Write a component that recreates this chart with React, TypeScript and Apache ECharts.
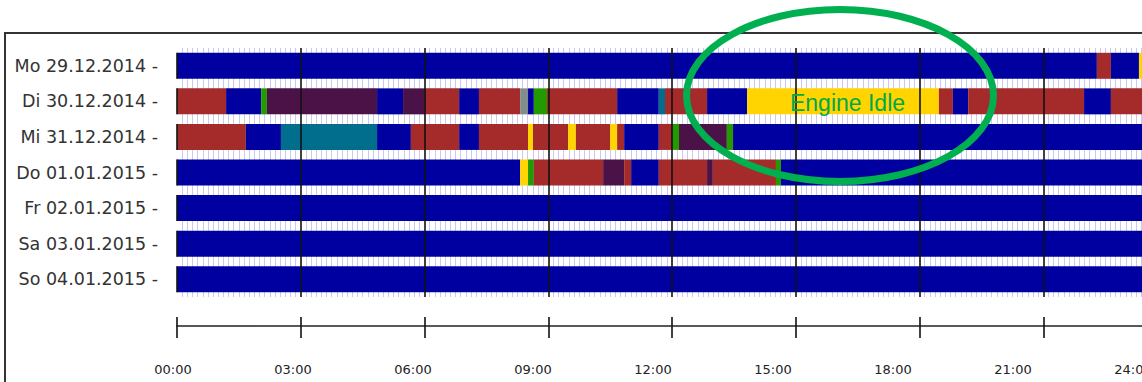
import React, { useEffect, useRef } from "react";
import * as echarts from "echarts";

// Day labels (y axis)
const dayLabels = [
  "Mo 29.12.2014",
  "Di 30.12.2014",
  "Mi 31.12.2014",
  "Do 01.01.2015",
  "Fr 02.01.2015",
  "Sa 03.01.2015",
  "So 04.01.2015",
];

// Time tick labels (x axis, every 3 h)
const timeLabels = ["00:00", "03:00", "06:00", "09:00", "12:00", "15:00", "18:00", "21:00", "24:00"];

// Status codes -> names and colours
const stateCodes = ["O", "D", "W", "B", "G", "Y", "U"];
const stateNames = ["Engine Off", "Driving", "Working", "Break", "Ignition On", "Engine Idle", "Unknown"];
const stateColors = ["#0000a0", "#a52a2a", "#4b1248", "#006e8c", "#229a00", "#ffd400", "#828c8c"];

// Segments per day: [start hour, end hour, status code]
const mo29: [number, number, string][] = [
  [0, 22.3, "O"], [22.3, 22.64, "D"], [22.64, 23.32, "O"], [23.32, 23.45, "Y"], [23.45, 24, "O"],
];
const di30: [number, number, string][] = [
  [0, 1.19, "D"], [1.19, 2.04, "O"], [2.04, 2.18, "G"], [2.18, 4.85, "W"], [4.85, 5.48, "O"],
  [5.48, 6.01, "W"], [6.01, 6.84, "D"], [6.84, 7.32, "O"], [7.32, 8.32, "D"], [8.32, 8.51, "U"],
  [8.51, 8.65, "O"], [8.65, 8.97, "G"], [8.97, 10.67, "D"], [10.67, 11.68, "O"], [11.68, 11.83, "B"],
  [11.83, 12.85, "D"], [12.85, 13.82, "O"], [13.82, 18.47, "Y"], [18.47, 18.81, "D"], [18.81, 19.18, "O"],
  [19.18, 21.99, "D"], [21.99, 22.64, "O"], [22.64, 24, "D"],
];
const mi31: [number, number, string][] = [
  [0, 1.67, "D"], [1.67, 2.52, "O"], [2.52, 4.85, "B"], [4.85, 5.67, "O"], [5.67, 6.84, "D"],
  [6.84, 7.32, "O"], [7.32, 8.51, "D"], [8.51, 8.63, "Y"], [8.63, 9.48, "D"], [9.48, 9.67, "Y"],
  [9.67, 10.5, "D"], [10.5, 10.67, "Y"], [10.67, 10.84, "D"], [10.84, 11.68, "O"], [11.68, 12.0, "D"],
  [12.0, 12.17, "G"], [12.17, 13.33, "W"], [13.33, 13.48, "G"], [13.48, 24, "O"],
];
const do01: [number, number, string][] = [
  [0, 8.32, "O"], [8.32, 8.51, "Y"], [8.51, 8.65, "G"], [8.65, 10.33, "D"], [10.33, 10.84, "W"],
  [10.84, 11.01, "D"], [11.01, 11.68, "O"], [11.68, 12.85, "D"], [12.85, 12.99, "W"], [12.99, 14.52, "D"],
  [14.52, 14.64, "G"], [14.64, 24, "O"],
];
const fr02: [number, number, string][] = [[0, 24, "O"]];
const sa03: [number, number, string][] = [[0, 24, "O"]];
const so04: [number, number, string][] = [[0, 24, "O"]];

const days = [mo29, di30, mi31, do01, fr02, sa03, so04];

// Hours where dark grid lines cross the bars
const majorHours = [3, 6, 9, 12, 15, 18, 21];

const annotationText = "Engine Idle";

export default function App() {
  const ref = useRef<HTMLDivElement>(null);

  useEffect(() => {
    if (!ref.current) return;
    const chart = echarts.init(ref.current, null, { renderer: "svg" });

    const data: any[] = [];
    days.forEach((segs, di) => {
      segs.forEach(([s, e, c]) => {
        const si = stateCodes.indexOf(c);
        data.push({ name: stateNames[si], value: [di, s, e, si] });
      });
    });

    const renderItem = (params: any, api: any) => {
      const day = api.value(0);
      const s = api.value(1);
      const e = api.value(2);
      const si = api.value(3);
      const p0 = api.coord([s, day]);
      const p1 = api.coord([e, day]);
      const h = api.size([0, 1])[1] * 0.731;
      const children: any[] = [
        {
          type: "rect",
          shape: { x: p0[0], y: p0[1] - h / 2, width: p1[0] - p0[0], height: h },
          style: { fill: stateColors[si] },
        },
      ];
      if (s === 0) {
        children.push({
          type: "line",
          shape: { x1: p0[0], y1: p0[1] - h / 2, x2: p0[0], y2: p0[1] + h / 2 },
          style: { stroke: "#111", lineWidth: 1.6 },
        });
      }
      return { type: "group", children };
    };

    chart.setOption({
      animation: false,
      backgroundColor: "#ffffff",
      grid: [
        { left: 177, top: 48, width: 990, height: 249 },
        { left: 173, top: 48, width: 960, height: 249 },
      ],
      xAxis: [
        {
          type: "value",
          gridIndex: 0,
          min: 0,
          max: 24,
          interval: 3,
          position: "bottom",
          offset: 29,
          axisLine: { show: true, lineStyle: { color: "#222", width: 1.6 } },
          axisTick: { show: true, length: 12, lineStyle: { color: "#111", width: 1.6 } },
          axisLabel: { show: false },
          splitLine: { show: false },
          minorTick: { show: false, splitNumber: 24 },
          minorSplitLine: { show: true, lineStyle: { color: "#cacaf0", width: 1 } },
        },
        {
          type: "value",
          gridIndex: 0,
          min: 0,
          max: 24,
          interval: 3,
          position: "bottom",
          offset: 29,
          axisLine: { show: false },
          axisTick: { show: true, inside: true, length: 9, lineStyle: { color: "#111", width: 1.6 } },
          axisLabel: { show: false },
          splitLine: { show: false },
        },
        {
          type: "value",
          gridIndex: 1,
          min: 0,
          max: 24,
          interval: 3,
          position: "bottom",
          offset: 29,
          axisLine: { show: false },
          axisTick: { show: false },
          splitLine: { show: false },
          axisLabel: {
            show: true,
            margin: 37,
            fontFamily: "DejaVu Sans",
            fontSize: 13,
            color: "#222",
            formatter: (v: number) => timeLabels[Math.round(v / 3)],
          },
        },
      ],
      yAxis: [
        {
          type: "category",
          gridIndex: 0,
          data: dayLabels,
          inverse: true,
          axisLine: { show: false },
          axisTick: { show: false },
          splitLine: { show: false },
          axisLabel: {
            margin: 19,
            fontFamily: "DejaVu Sans",
            fontSize: 17.5,
            color: "#333",
            formatter: (v: string) => v + " -",
          },
        },
        { type: "value", gridIndex: 1, show: false, min: 0, max: 1 },
      ],
      series: [
        {
          type: "custom",
          name: "Status",
          xAxisIndex: 0,
          yAxisIndex: 0,
          renderItem,
          encode: { x: [1, 2], y: 0 },
          data,
          markLine: {
            silent: true,
            symbol: "none",
            label: { show: false },
            lineStyle: { color: "#111", width: 1.6, type: "solid" },
            data: majorHours.map((h) => ({ xAxis: h })),
          },
        },
      ],
      graphic: [
        {
          type: "rect",
          shape: { x: 5, y: 33, width: 1400, height: 500 },
          style: { fill: "none", stroke: "#333", lineWidth: 2 },
          z: 1,
        },
        {
          type: "ellipse",
          shape: { cx: 840, cy: 95.5, rx: 153.5, ry: 86 },
          style: { fill: "none", stroke: "#00b050", lineWidth: 7 },
          z: 100,
        },
        {
          type: "text",
          x: 847.5,
          y: 103,
          style: {
            text: annotationText,
            fill: "#00a84c",
            font: '23px "Liberation Sans"',
            align: "center",
            verticalAlign: "middle",
          },
          z: 101,
        },
      ],
    });

    return () => chart.dispose();
  }, []);

  return (
    <div style={{ position: "fixed", left: 0, top: 0, width: 1142, height: 382, overflow: "hidden", background: "#fff" }}>
      <div ref={ref} style={{ width: 1260, height: 382 }} />
    </div>
  );
}
